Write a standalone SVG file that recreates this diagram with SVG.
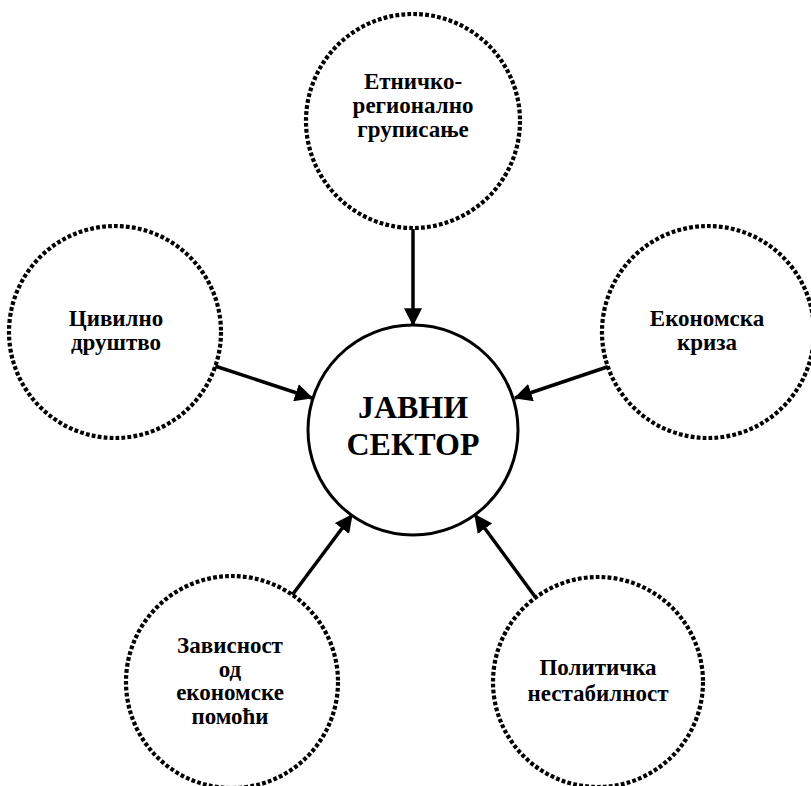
<svg xmlns="http://www.w3.org/2000/svg" width="811" height="786" viewBox="0 0 811 786">
<style>
.dot{fill:#fff;stroke:#000;stroke-width:4.2;stroke-dasharray:3.8 2.2}
.main{fill:#fff;stroke:#000;stroke-width:3}
.t{font-family:'Liberation Serif','Times New Roman',serif;font-weight:700;font-size:23px;text-anchor:middle;fill:#000}
.big{font-size:32px}
.arr{stroke:#000;stroke-width:3.5;fill:none;marker-end:url(#ah)}
</style>
<defs>
<marker id="ah" markerUnits="userSpaceOnUse" markerWidth="18" markerHeight="18" viewBox="0 0 16 16" refX="15" refY="8" orient="auto">
<path d="M0,0 L16,8 L0,16 Z" fill="#000"/>
</marker>
</defs>
<rect width="811" height="786" fill="#fff"/>
<g id="connectors">
<line class="arr" x1="413" y1="229" x2="413" y2="325"/>
<line class="arr" x1="215" y1="366" x2="312" y2="398"/>
<line class="arr" x1="613" y1="365" x2="515" y2="398"/>
<line class="arr" x1="290" y1="598" x2="352" y2="515"/>
<line class="arr" x1="536" y1="598" x2="475" y2="515"/>
</g>
<g id="center">
<circle class="main" cx="413" cy="430" r="105"/>
<text class="t big" x="413" y="418">ЈАВНИ</text>
<text class="t big" x="413" y="455">СЕКТОР</text>
</g>
<g id="top">
<circle class="dot" cx="413" cy="121" r="107"/>
<text class="t" x="413" y="89">Етничко-</text>
<text class="t" x="413" y="113">регионално</text>
<text class="t" x="413" y="137">груписање</text>
</g>
<g id="left">
<circle class="dot" cx="115" cy="332" r="106"/>
<text class="t" x="116" y="326">Цивилно</text>
<text class="t" x="116" y="350">друштво</text>
</g>
<g id="right">
<circle class="dot" cx="708" cy="332" r="106"/>
<text class="t" x="707" y="326">Економска</text>
<text class="t" x="707" y="350">криза</text>
</g>
<g id="bottom-left">
<circle class="dot" cx="232" cy="682" r="106"/>
<text class="t" x="230" y="653">Зависност</text>
<text class="t" x="230" y="677">од</text>
<text class="t" x="230" y="700">економске</text>
<text class="t" x="230" y="724">помоћи</text>
</g>
<g id="bottom-right">
<circle class="dot" cx="598" cy="682" r="105"/>
<text class="t" x="598" y="675">Политичка</text>
<text class="t" x="598" y="701">нестабилност</text>
</g>
</svg>
